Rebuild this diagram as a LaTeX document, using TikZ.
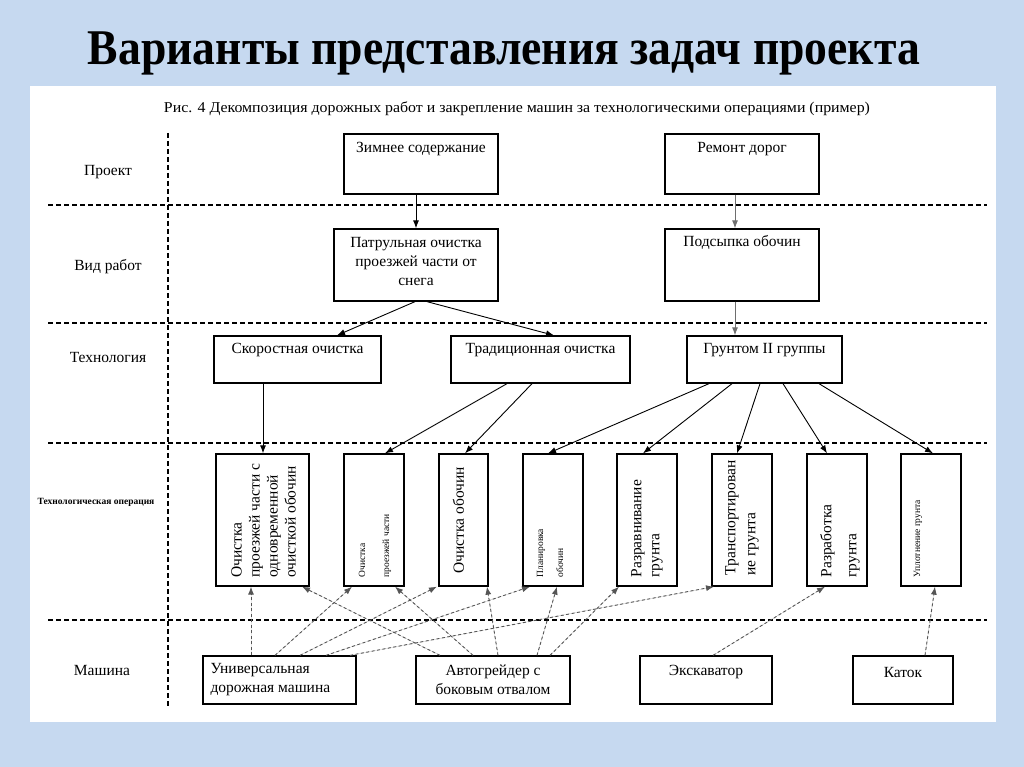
\documentclass[tikz,border=0pt]{standalone}
\usepackage{fontspec}
\usepackage{graphicx}
\setmainfont{Liberation Serif}
\usetikzlibrary{arrows.meta,calc}
\definecolor{bgblue}{RGB}{198,217,240}
\definecolor{dgray}{RGB}{85,85,85}
\definecolor{mgray}{RGB}{110,110,110}
\begin{document}
\begin{tikzpicture}[x=1pt,y=-1pt,
  box/.style={draw=black, line width=1.3pt, inner sep=0pt, fill=white},
  txt/.style={font=\fontsize{15.5}{19}\selectfont, inner sep=0pt, align=center},
  rowlbl/.style={font=\fontsize{15.5}{19}\selectfont, inner sep=0pt},
  rtxt/.style={rotate=90, anchor=west, inner sep=0pt, align=left, font=\fontsize{15.5}{18}\selectfont},
  arr/.style={-{Latex[length=8pt,width=6pt]}, line width=0.9pt},
  darr/.style={-{Latex[length=8pt,width=6pt]}, line width=0.9pt, dash pattern=on 3pt off 2.5pt, draw=dgray, fill=dgray},
  sepline/.style={line width=1.3pt, dash pattern=on 5pt off 3pt}
]
\useasboundingbox (0,0) rectangle (1024,767);
\fill[bgblue] (0,0) rectangle (1024,767);
\fill[white] (30,86) rectangle (996,722);

% title and caption
\node[anchor=base, inner sep=0pt] (title) at (504,65)
  {\resizebox{832pt}{\height}{\fontsize{50}{50}\selectfont\bfseries Варианты представления задач проекта}};
\node[anchor=base, inner sep=0pt] (caption) at (517,113)
  {\resizebox{706pt}{\height}{\fontsize{15}{15}\selectfont Рис. 4 Декомпозиция дорожных работ и закрепление машин за технологическими операциями (пример)}};

% separators
\coordinate (s1a) at (48,205); \coordinate (s1b) at (987,205);
\coordinate (s2a) at (48,323); \coordinate (s2b) at (987,323);
\coordinate (s3a) at (48,443); \coordinate (s3b) at (987,443);
\coordinate (s4a) at (48,620); \coordinate (s4b) at (987,620);
\coordinate (vt) at (168,133); \coordinate (vb) at (168,708);
\draw[sepline] (s1a) -- (s1b);
\draw[sepline] (s2a) -- (s2b);
\draw[sepline] (s3a) -- (s3b);
\draw[sepline] (s4a) -- (s4b);
\draw[sepline] (vt) -- (vb);

% row labels
\node[rowlbl] (l1) at (108,172) {Проект};
\node[rowlbl] (l2) at (108,267) {Вид работ};
\node[rowlbl] (l3) at (108,357) {Технология};
\node[inner sep=0pt, font=\fontsize{9.5}{10}\selectfont\bfseries] (l4) at (96,502) {Технологическая операция};
\node[rowlbl] (l5) at (102,670) {Машина};

% row 1
\node[box, minimum width=154pt, minimum height=60pt] (zim) at (421,164) {};
\node[txt] (zimt) at ([yshift=-16pt]zim.north) {Зимнее содержание};
\node[box, minimum width=154pt, minimum height=60pt] (rem) at (742,164) {};
\node[txt] (remt) at ([yshift=-16pt]rem.north) {Ремонт дорог};

% row 2
\node[box, minimum width=164pt, minimum height=72pt] (pat) at (416,265) {};
\node[txt] (patt) at ([yshift=-33pt]pat.north) {Патрульная очистка\\проезжей части от\\снега};
\node[box, minimum width=154pt, minimum height=72pt] (pod) at (742,265) {};
\node[txt] (podt) at ([yshift=-14pt]pod.north) {Подсыпка обочин};

% row 3
\node[box, minimum width=167pt, minimum height=47pt] (sko) at (297.5,359.5) {};
\node[txt] (skot) at ([yshift=-15pt]sko.north) {Скоростная очистка};
\node[box, minimum width=179pt, minimum height=47pt] (tra) at (540.5,359.5) {};
\node[txt] (trat) at ([yshift=-15pt]tra.north) {Традиционная очистка};
\node[box, minimum width=155pt, minimum height=47pt] (gru) at (764.5,359.5) {};
\node[txt] (grut) at ([yshift=-15pt]gru.north) {Грунтом II группы};

% row 4 (operations)
\node[box, minimum width=93pt, minimum height=132pt] (op1) at (262.5,520) {};
\node[box, minimum width=60pt, minimum height=132pt] (op2) at (374,520) {};
\node[box, minimum width=49pt, minimum height=132pt] (op3) at (463.5,520) {};
\node[box, minimum width=60pt, minimum height=132pt] (op4) at (553,520) {};
\node[box, minimum width=60pt, minimum height=132pt] (op5) at (647,520) {};
\node[box, minimum width=60pt, minimum height=132pt] (op6) at (742,520) {};
\node[box, minimum width=60pt, minimum height=132pt] (op7) at (837,520) {};
\node[box, minimum width=60pt, minimum height=132pt] (op8) at (931,520) {};

\node[rtxt] (op1t) at ([yshift=9pt,xshift=1pt]op1.south) {Очистка\\проезжей части с\\одновременной\\очисткой обочин};
\node[rtxt, font=\fontsize{9.5}{24}\selectfont] (op2t) at ([yshift=9pt,xshift=1pt]op2.south) {Очистка\\проезжей части};
\node[rtxt] (op3t) at ([yshift=13pt,xshift=-5pt]op3.south) {Очистка обочин};
\node[rtxt, font=\fontsize{9.5}{20}\selectfont] (op4t) at ([yshift=9pt,xshift=-3pt]op4.south) {Планировка\\обочин};
\node[rtxt] (op5t) at ([yshift=9pt]op5.south) {Разравнивание\\грунта};
\node[rtxt, font=\fontsize{15.5}{20}\selectfont] (op6t) at ([yshift=11pt]op6.south) {Транспортирован\\ие грунта};
\node[rtxt, font=\fontsize{15.5}{25}\selectfont] (op7t) at ([yshift=9pt,xshift=3pt]op7.south) {Разработка\\грунта};
\node[rtxt, font=\fontsize{9.5}{12}\selectfont] (op8t) at ([yshift=9pt,xshift=-13pt]op8.south) {Уплотнение грунта};

% row 5 (machines)
\node[box, minimum width=153pt, minimum height=48pt] (uni) at (279.5,680) {};
\node[txt, align=left, anchor=west] (unit) at ([xshift=8pt]uni.west) {Универсальная\\дорожная машина};
\node[box, minimum width=154pt, minimum height=48pt] (avt) at (493,680) {};
\node[txt] (avtt) at (avt.center) {Автогрейдер с\\боковым отвалом};
\node[box, minimum width=132pt, minimum height=48pt] (exc) at (706,680) {};
\node[txt] (exct) at ([yshift=8pt]exc.center) {Экскаватор};
\node[box, minimum width=100pt, minimum height=48pt] (kat) at (903,680) {};
\node[txt] (katt) at ([yshift=8pt]kat.center) {Каток};

% solid arrows
\draw[arr] ([xshift=-5pt]zim.south) -- (pat.north);
\draw[arr, draw=mgray, fill=mgray] ([xshift=-7pt]rem.south) -- ([xshift=-7pt]pod.north);
\draw[arr] ([xshift=-1pt]pat.south) -- ([xshift=39.5pt]sko.north);
\draw[arr] ([xshift=11pt]pat.south) -- ([xshift=13.5pt]tra.north);
\draw[arr, draw=mgray, fill=mgray] ([xshift=-7pt]pod.south) -- ([xshift=-29.5pt]gru.north);
\draw[arr] ([xshift=-34.5pt]sko.south) -- ([xshift=0.5pt]op1.north);
\draw[arr] ([xshift=-33.5pt]tra.south) -- ([xshift=11pt]op2.north);
\draw[arr] ([xshift=-8.5pt]tra.south) -- ([xshift=1.5pt]op3.north);
\draw[arr] ([xshift=-55.5pt]gru.south) -- ([xshift=-5pt]op4.north);
\draw[arr] ([xshift=-32.5pt]gru.south) -- ([xshift=-4pt]op5.north);
\draw[arr] ([xshift=-4.5pt]gru.south) -- ([xshift=-5pt]op6.north);
\draw[arr] ([xshift=18.5pt]gru.south) -- ([xshift=-10pt]op7.north);
\draw[arr] ([xshift=54.5pt]gru.south) -- ([xshift=2pt]op8.north);

% dashed arrows (machines -> operations)
\draw[darr] ([xshift=-28.5pt]uni.north) -- ([xshift=-11.5pt]op1.south);
\draw[darr] ([xshift=-53pt]avt.north) -- ([xshift=39.5pt]op1.south);
\draw[darr] ([xshift=-4.5pt]uni.north) -- ([xshift=-22pt]op2.south);
\draw[darr] ([xshift=-20pt]avt.north) -- ([xshift=21pt]op2.south);
\draw[darr] ([xshift=20.5pt]uni.north) -- ([xshift=-26.5pt]op3.south);
\draw[darr] ([xshift=5pt]avt.north) -- ([xshift=23.5pt]op3.south);
\draw[darr] ([xshift=46.5pt]uni.north) -- ([xshift=-23pt]op4.south);
\draw[darr] ([xshift=44pt]avt.north) -- ([xshift=4pt]op4.south);
\draw[darr] ([xshift=57pt]avt.north) -- ([xshift=-28pt]op5.south);
\draw[darr] ([xshift=70.5pt]uni.north) -- ([xshift=-28pt]op6.south);
\draw[darr] ([xshift=7pt]exc.north) -- ([xshift=-12pt]op7.south);
\draw[darr] ([xshift=22pt]kat.north) -- ([xshift=4pt]op8.south);
\end{tikzpicture}
\end{document}
